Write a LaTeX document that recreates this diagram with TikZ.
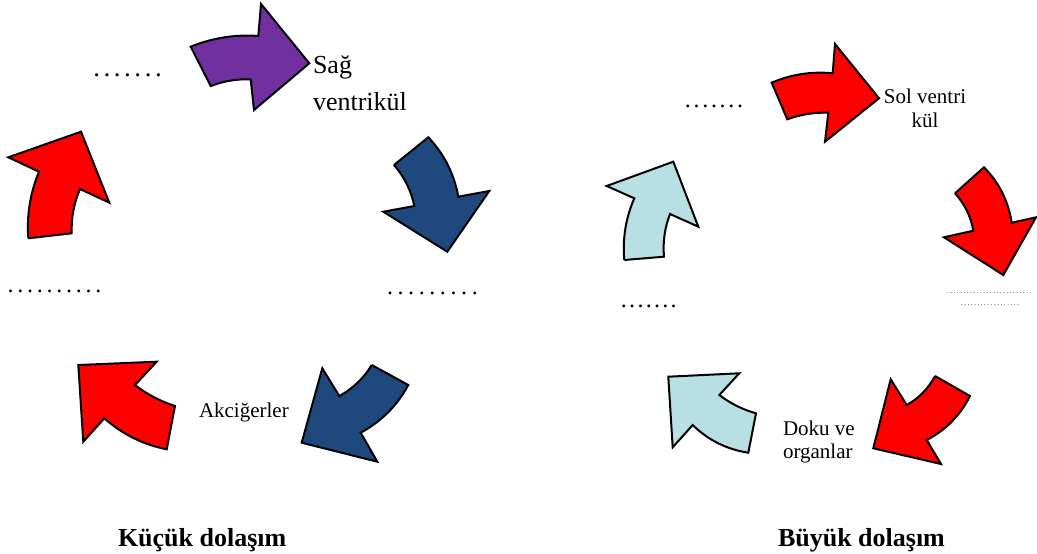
\documentclass[tikz,border=0pt]{standalone}
\usepackage{fontspec}
\setmainfont{Liberation Serif}
\definecolor{arrowpurple}{HTML}{7030A0}
\definecolor{arrownavy}{HTML}{1F497D}
\definecolor{arrowred}{HTML}{FF0000}
\definecolor{arrowcyan}{HTML}{B8DFE3}
% a row of n periods, each centred in a box of the given width
\newcommand\dotrow[2]{\foreach \k in {1,...,#1}{\makebox[#2][c]{.}}}
\tikzset{
  blockarrow/.style={draw=black, line width=2pt, line join=miter},
  purplearrow/.style={blockarrow, fill=arrowpurple},
  navyarrow/.style={blockarrow, fill=arrownavy},
  redarrow/.style={blockarrow, fill=arrowred},
  cyanarrow/.style={blockarrow, fill=arrowcyan},
  lbl/.style={inner sep=0pt, outer sep=0pt, font=\fontsize{21}{24}\selectfont},
  biglbl/.style={inner sep=0pt, outer sep=0pt, font=\fontsize{26}{28}\selectfont},
  title/.style={inner sep=0pt, outer sep=0pt, font=\fontsize{26}{28}\selectfont\bfseries},
  dots/.style={inner sep=0pt, outer sep=0pt, anchor=base west, font=\fontsize{24}{26}\selectfont},
  bigdots/.style={inner sep=0pt, outer sep=0pt, anchor=base west, font=\fontsize{27}{28}\selectfont},
  finedots/.style={inner sep=0pt, outer sep=0pt, anchor=base west, font=\fontsize{7}{8}\selectfont},
}
\begin{document}
\begin{tikzpicture}[x=1pt, y=-1pt]
\useasboundingbox (0,0) rectangle (1037,554);

% ---------- small circulation (left cycle) ----------
% top: towards the right ventricle
\draw[purplearrow] (190.7,46.7) .. controls (212.4,37.9) and (234.9,34.3) .. (258.3,36) -- (261,4) -- (309.3,63.3)
  -- (254,110) -- (250.7,79.3) .. controls (236.9,78.9) and (223.6,81.1) .. (210.7,86) -- cycle;
% right: downwards
\draw[navyarrow] (394,165) -- (428.3,137.3) .. controls (444.2,154.1) and (454.2,173.9) .. (458.3,196.7) -- (489.3,191)
  -- (447.3,251.7) -- (383.3,211.7) -- (414.3,206) .. controls (411.1,190.5) and (404.3,176.9) .. (394,165);
% bottom right: towards the lungs
\draw[navyarrow] (371.7,365) -- (408.3,385) .. controls (397.2,405.6) and (381.3,421.5) .. (360.7,432.7) -- (377.3,461.7)
  -- (301.7,442.7) -- (322.3,368.3) -- (339.3,396) .. controls (352.9,388.6) and (363.7,378.2) .. (371.7,365);
% bottom left: back from the lungs
\draw[redarrow] (78.3,365) -- (156.7,361.7) -- (135,385) .. controls (147.1,394.3) and (160.4,401.3) .. (175,406)
  -- (166.7,449.3) .. controls (143.1,444.6) and (122.3,434.2) .. (104.3,418.3) -- (83.3,441.7) -- cycle;
% left: upwards
\draw[redarrow] (28.3,238.3) -- (71.7,233.3) .. controls (71.2,217.9) and (73.9,203.1) .. (80,189) -- (109.3,202.7)
  -- (81,131.7) -- (8.3,157.3) -- (39,171.7) .. controls (30.2,193.0) and (26.6,215.2) .. (28.3,238.3);

% ---------- systemic circulation (right cycle) ----------
% top: towards the left ventricle
\draw[redarrow] (771.7,82.7) .. controls (791.2,74.3) and (811.6,71.2) .. (832.7,73.3) -- (835,44) -- (879,98.3)
  -- (825,141.7) -- (828.3,112.7) .. controls (814.2,112.3) and (800.5,114.5) .. (787.3,119.3) -- cycle;
% right: downwards
\draw[redarrow] (955,193.3) -- (984,167.3) .. controls (999.2,182.8) and (1008.4,201.2) .. (1011.7,222.7) -- (1036,217.3)
  -- (1003.3,275) -- (944,237.3) -- (973.3,230.7) .. controls (970.8,216.5) and (964.7,204) .. (955,193.3);
% bottom right: towards tissues and organs
\draw[redarrow] (935,376) -- (970,396) .. controls (960.3,415.3) and (945.9,430) .. (926.7,440) -- (941,464)
  -- (873.3,448.3) -- (890.7,379.3) -- (906.7,405) .. controls (919,398.1) and (928.4,388.5) .. (935,376);
% bottom left: back from the organs
\draw[cyanarrow] (668.3,376.7) -- (739.3,373.3) -- (719.3,395) .. controls (730.4,403.5) and (742.6,409.6) .. (756,413.3)
  -- (748.3,452.7) .. controls (726.8,449.4) and (708.2,440.2) .. (692.7,425) -- (672.7,447.3) -- cycle;
% left: upwards
\draw[cyanarrow] (624.3,260) -- (664,256.7) .. controls (662.7,242) and (664.7,227.8) .. (670,214) -- (698.3,226.7)
  -- (673.3,161.7) -- (606.7,186) -- (634.3,198.3) .. controls (625.7,218) and (622.4,238.6) .. (624.3,260);

% ---------- labels ----------
\node[biglbl, anchor=base west] (sag) at (313,73) {Sağ};
\node[biglbl, anchor=base west] (ventrikul) at (313,110) {ventrikül};
\node[lbl, anchor=base west] (akciger) at (199,417) {Akciğerler};
\node[lbl, anchor=base] (solventri) at (925,103) {Sol ventri};
\node[lbl, anchor=base] (kul) at (925,127) {kül};
\node[lbl, anchor=base west] (doku) at (783,435) {Doku ve};
\node[lbl, anchor=base west] (organ) at (783,458) {organlar};

% blanks to be filled in
\node[bigdots] (blankA) at (91.5,76.5) {\dotrow{7}{10.3pt}};
\node[dots] (blankB) at (5.8,292) {\dotrow{10}{9.75pt}};
\node[dots] (blankC) at (384.7,294) {\dotrow{9}{10.6pt}};
\node[dots] (blankD) at (683.6,107) {\dotrow{7}{8.7pt}};
\node[dots] (blankE) at (619.8,307) {\dotrow{7}{8.3pt}};
\node[finedots] (blankF) at (946.3,293) {\dotrow{26}{3.3pt}};
\node[finedots] (blankG) at (960.3,305) {\dotrow{18}{3.3pt}};

% titles
\node[title, anchor=base west] (kucuk) at (118,546) {Küçük dolaşım};
\node[title, anchor=base west] (buyuk) at (778,546) {Büyük dolaşım};
\end{tikzpicture}
\end{document}
